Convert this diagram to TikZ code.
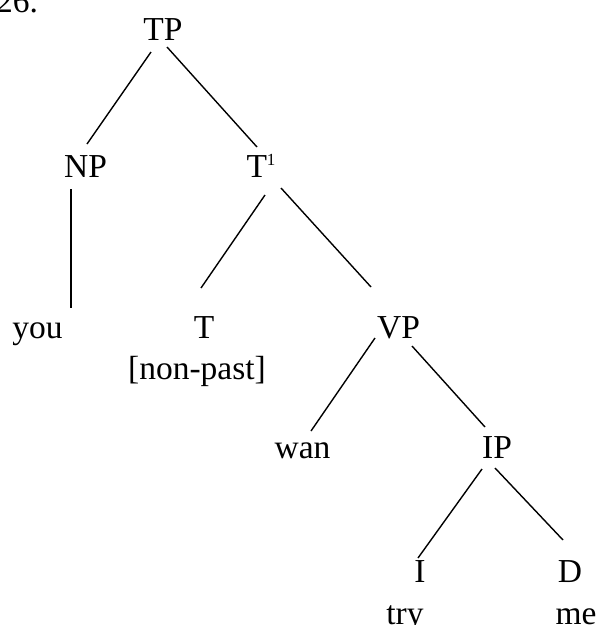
\documentclass[tikz,border=0pt]{standalone}
\usepackage{fontspec}
\setmainfont{Liberation Serif}
\begin{document}
\begin{tikzpicture}[x=1pt,y=-1pt,
  lbl/.style={anchor=base,inner sep=0pt,font=\fontsize{33.5}{40}\selectfont},
  branch/.style={line width=1.4pt,line cap=butt}]
\useasboundingbox (0,0) rectangle (601,625);
\node[lbl,anchor=base west] (num) at (-4,12) {26.};
\node[lbl] (TP) at (163,40) {TP};
\node[lbl] (NP) at (85.5,177) {NP};
\node[lbl] (Tbar) at (261,177) {T\raisebox{12pt}{\fontsize{17}{17}\selectfont 1}};
\node[lbl] (you) at (37.5,338) {you};
\node[lbl] (T) at (204,338) {T};
\node[lbl] (np) at (197,379) {[non-past]};
\node[lbl] (VP) at (398.5,338) {VP};
\node[lbl] (wan) at (302.5,458) {wan};
\node[lbl] (IP) at (497,458) {IP};
\node[lbl] (I) at (420,582) {I};
\node[lbl] (D) at (570,582) {D};
\node[lbl] (try) at (405,624) {try};
\node[lbl] (me) at (576,624) {me};
% connector end points next to the nodes
\coordinate (TPa) at (151,52);  \coordinate (NPa) at (87,144);
\coordinate (TPb) at (167,47);  \coordinate (Tbara) at (257,147);
\coordinate (NPb) at (71,189);  \coordinate (youa) at (71,308);
\coordinate (Tbarb) at (265,195); \coordinate (Ta) at (201,288);
\coordinate (Tbarc) at (281,188); \coordinate (VPa) at (371,287);
\coordinate (VPb) at (375,338); \coordinate (wana) at (311,431);
\coordinate (VPc) at (412,346); \coordinate (IPa) at (485,427);
\coordinate (IPb) at (482,469); \coordinate (Ia) at (418,558);
\coordinate (IPc) at (495,468); \coordinate (Da) at (563,540);
\draw[branch] (TPa) -- (NPa);
\draw[branch] (TPb) -- (Tbara);
\draw[branch] (NPb) -- (youa);
\draw[branch] (Tbarb) -- (Ta);
\draw[branch] (Tbarc) -- (VPa);
\draw[branch] (VPb) -- (wana);
\draw[branch] (VPc) -- (IPa);
\draw[branch] (IPb) -- (Ia);
\draw[branch] (IPc) -- (Da);
\end{tikzpicture}
\end{document}
